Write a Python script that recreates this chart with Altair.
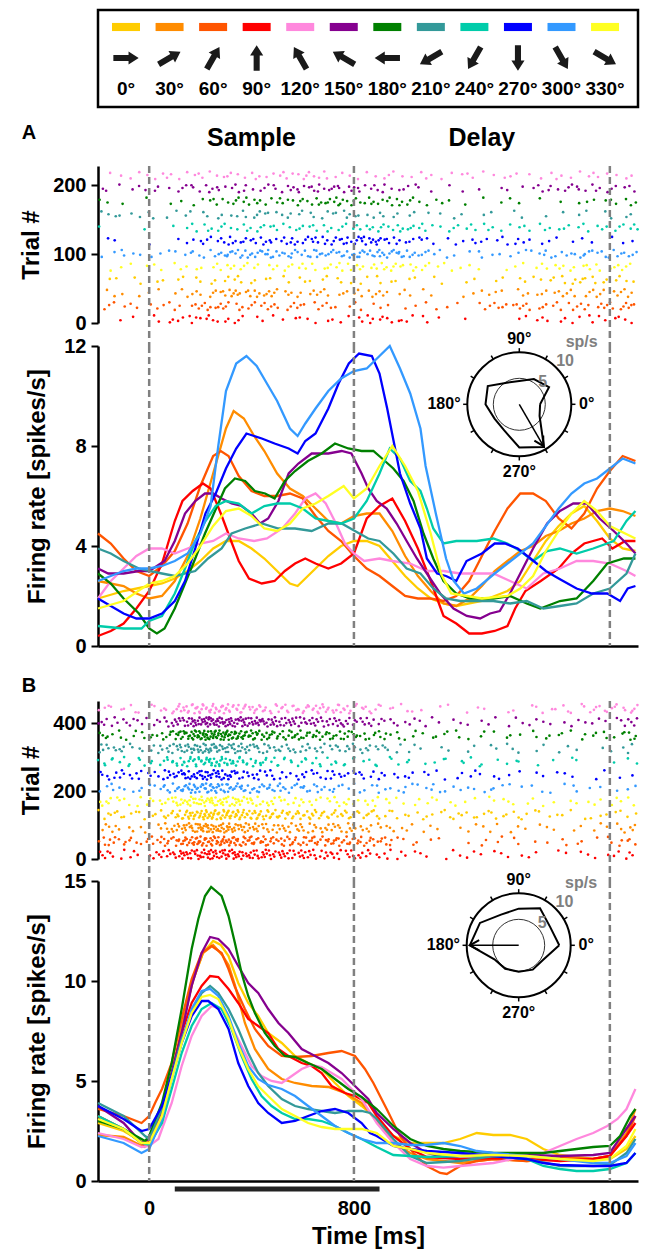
import altair as alt
import numpy as np
import pandas as pd

FONT = "Liberation Sans"

# ---------------- categories / styling data ----------------
ANGLES = [0, 30, 60, 90, 120, 150, 180, 210, 240, 270, 300, 330]
ANGLE_LABELS = ["0°", "30°", "60°", "90°", "120°", "150°", "180°", "210°", "240°", "270°", "300°", "330°"]
COLORS = ["#FFCC00", "#FF8C00", "#FF5500", "#FF0000", "#FF88DD", "#85008F",
          "#008000", "#339999", "#00CCAA", "#0000FF", "#3399FF", "#FFFF22"]
RASTER_ORDER = [90, 60, 30, 0, 330, 300, 270, 240, 210, 180, 150, 120]

EVENT_TIMES = [0, 800, 1800]
EPOCH_NAMES = ["Sample", "Delay"]
EPOCH_MIDS = [400, 1300]
X_TICKS = [0, 800, 1800]
STIM_BAR = [100, 900]
A_RASTER_TICKS = [0, 100, 200]
A_RATE_TICKS = [0, 4, 8, 12]
B_RASTER_TICKS = [0, 200, 400]
B_RATE_TICKS = [0, 5, 10, 15]

# ---------------- panel A firing rates (time ms, spikes/s) ----------------
A_000 = [(-200,1.9),(-100,2.2),(0,2.4),(50,2.5),(100,2.7),(150,3.0),(200,3.4),(250,3.9),(300,4.2),(350,4.2),(400,3.9),(450,3.5),(500,3.0),(550,2.5),(580,2.4),(620,2.8),(660,3.2),(700,3.6),(750,4.0),(800,4.2),(850,4.2),(900,4.0),(950,3.4),(1000,2.8),(1050,2.3),(1100,1.9),(1150,1.7),(1200,1.6),(1300,1.8),(1400,2.2),(1450,2.6),(1500,3.4),(1550,4.2),(1600,4.8),(1650,5.3),(1700,5.6),(1750,5.0),(1800,4.3),(1850,3.9),(1900,3.8)]
A_030 = [(-200,2.6),(-100,2.4),(-50,2.1),(0,1.9),(50,2.0),(100,2.6),(150,3.6),(200,5.1),(250,6.9),(300,8.7),(330,9.4),(370,9.1),(410,8.4),(450,7.8),(500,6.9),(550,6.3),(600,6.0),(650,5.5),(700,5.0),(750,4.9),(800,5.2),(850,5.3),(900,5.3),(950,4.6),(1000,3.6),(1050,2.8),(1100,2.2),(1150,1.7),(1200,1.6),(1250,1.9),(1300,2.4),(1350,3.0),(1400,3.4),(1450,3.8),(1500,4.0),(1550,4.4),(1600,4.6),(1650,4.9),(1700,5.1),(1750,5.4),(1800,5.5),(1850,5.4),(1900,5.2)]
A_060 = [(-200,4.5),(-150,4.1),(-100,3.5),(-50,3.0),(0,2.8),(50,3.2),(100,3.8),(150,4.9),(200,6.4),(250,7.6),(280,7.8),(310,7.6),(350,6.8),(400,6.2),(450,6.0),(500,6.0),(550,6.1),(600,5.9),(650,5.2),(700,4.6),(750,4.2),(800,3.6),(850,3.1),(900,2.8),(950,2.4),(1000,2.0),(1050,1.9),(1100,1.9),(1150,1.8),(1200,2.0),(1250,2.6),(1300,3.6),(1350,4.6),(1400,5.5),(1450,6.1),(1500,6.1),(1550,5.8),(1600,5.1),(1650,4.7),(1700,5.3),(1750,6.3),(1800,7.0),(1850,7.6),(1900,7.4)]
A_090 = [(-200,0.4),(-150,0.6),(-100,0.9),(-50,1.5),(0,2.2),(50,3.3),(100,5.0),(130,5.8),(170,6.2),(210,6.5),(240,6.3),(280,5.3),(320,4.2),(350,3.4),(390,2.7),(440,2.5),(490,2.6),(530,3.0),(570,3.3),(610,3.5),(650,3.3),(700,3.1),(750,3.3),(800,3.7),(850,5.1),(900,5.6),(950,5.9),(1000,5.0),(1050,3.9),(1100,2.6),(1150,1.2),(1200,0.9),(1250,0.5),(1300,0.5),(1350,0.6),(1400,0.8),(1430,1.5),(1470,2.2),(1530,2.6),(1600,3.1),(1650,3.7),(1700,4.1),(1770,4.3),(1810,3.9),(1860,4.2),(1900,4.2)]
A_120 = [(-200,1.9),(-150,2.6),(-100,3.1),(-50,3.6),(0,3.9),(50,3.9),(100,3.7),(150,3.9),(200,4.1),(250,4.2),(300,4.5),(350,4.3),(410,4.2),(460,4.3),(520,4.7),(570,5.3),(610,5.9),(650,6.1),(690,5.7),(730,4.9),(765,4.1),(800,3.7),(840,3.4),(900,3.5),(950,3.4),(1020,3.3),(1085,3.0),(1150,3.0),(1215,2.9),(1280,2.9),(1345,2.9),(1410,2.6),(1475,2.3),(1540,2.9),(1605,3.1),(1670,3.4),(1735,3.4),(1800,3.3),(1865,3.0),(1900,2.8)]
A_150 = [(-200,3.1),(-160,2.9),(-100,2.9),(-40,3.0),(0,3.0),(60,3.4),(100,4.2),(140,5.3),(180,5.8),(218,6.1),(250,6.1),(283,5.9),(322,5.7),(361,5.6),(400,5.3),(433,4.9),(465,5.1),(505,5.8),(545,6.9),(583,7.3),(635,7.7),(700,7.7),(752,7.8),(790,7.7),(830,6.9),(856,6.3),(889,5.8),(928,5.5),(967,4.9),(1006,4.2),(1046,3.5),(1085,2.9),(1137,2.1),(1189,1.5),(1241,1.2),(1293,1.1),(1332,1.3),(1370,1.4),(1410,2.1),(1450,2.9),(1500,3.9),(1555,4.9),(1605,5.4),(1657,5.7),(1710,5.7),(1760,5.1),(1815,4.6),(1865,4.1),(1900,3.7)]
A_180 = [(-200,2.9),(-150,2.5),(-100,1.9),(-40,1.3),(0,0.7),(30,0.5),(60,0.7),(100,1.5),(140,2.5),(180,3.5),(218,4.5),(257,5.4),(296,6.3),(335,6.7),(375,6.6),(413,6.2),(453,6.1),(490,5.9),(530,6.6),(570,7.0),(620,7.4),(674,7.7),(726,8.1),(778,7.9),(830,7.8),(876,7.8),(910,7.5),(954,7.1),(994,6.6),(1033,5.8),(1072,4.5),(1110,3.5),(1150,2.6),(1200,2.1),(1255,1.9),(1345,1.9),(1410,2.0),(1475,1.7),(1528,1.5),(1605,1.8),(1670,1.9),(1735,2.6),(1790,3.3),(1855,3.5),(1900,3.5)]
A_210 = [(-200,3.9),(-150,3.7),(-100,3.4),(-40,3.1),(0,3.0),(50,2.9),(100,2.8),(180,3.0),(230,3.5),(283,3.9),(322,4.5),(375,4.7),(440,4.9),(505,4.7),(570,4.7),(635,4.6),(700,4.9),(752,4.9),(804,4.6),(856,4.3),(900,4.2),(954,3.7),(1006,3.1),(1060,2.9),(1110,2.3),(1160,1.9),(1215,1.8),(1345,1.8),(1410,1.7),(1475,1.8),(1540,1.5),(1605,1.6),(1670,1.7),(1735,2.1),(1800,2.3),(1865,2.9),(1900,3.7)]
A_240 = [(-200,0.8),(-100,0.7),(-30,0.7),(0,1.0),(50,1.2),(100,2.1),(140,3.1),(180,4.2),(220,5.0),(260,5.6),(300,5.8),(350,5.7),(400,5.3),(450,5.6),(500,5.7),(550,5.7),(600,5.5),(650,5.1),(700,5.0),(750,4.9),(800,5.1),(850,5.8),(900,6.9),(940,7.9),(980,7.5),(1020,6.6),(1060,6.2),(1085,5.5),(1110,4.7),(1150,4.1),(1200,4.2),(1280,4.2),(1345,4.3),(1400,4.1),(1450,3.8),(1500,3.4),(1555,3.8),(1605,3.9),(1670,3.7),(1735,3.9),(1815,4.2),(1865,5.0),(1900,5.4)]
A_270 = [(-200,1.9),(-150,1.6),(-100,1.3),(-50,1.1),(0,1.1),(50,1.3),(100,1.8),(140,2.6),(180,3.9),(220,5.3),(260,6.1),(300,7.1),(340,7.9),(380,8.5),(440,8.3),(490,8.1),(545,7.9),(580,7.7),(610,8.2),(650,8.5),(700,9.5),(740,10.5),(780,11.3),(820,11.7),(870,11.6),(900,10.9),(930,9.5),(955,8.2),(980,6.9),(1020,5.7),(1060,4.7),(1085,3.5),(1125,2.9),(1160,2.8),(1200,2.6),(1240,3.4),(1300,3.7),(1350,4.1),(1390,4.1),(1440,3.9),(1490,3.5),(1550,3.0),(1600,2.7),(1670,2.3),(1730,2.1),(1790,2.1),(1840,1.8),(1870,2.3),(1900,2.4)]
A_300 = [(-200,2.6),(-150,2.8),(-100,3.0),(-50,3.1),(0,3.1),(50,3.2),(100,3.4),(150,3.7),(200,4.5),(240,5.6),(270,8.0),(300,10.2),(340,11.3),(380,11.6),(420,11.2),(460,10.5),(500,9.8),(550,8.7),(580,8.4),(610,8.9),(650,9.5),(700,10.2),(750,10.7),(800,11.0),(850,11.1),(900,11.6),(940,12.0),(980,11.1),(1020,10.1),(1060,8.7),(1080,7.2),(1120,5.3),(1160,3.5),(1190,2.6),(1230,2.1),(1280,2.3),(1350,2.9),(1400,3.3),(1450,3.7),(1500,4.1),(1550,4.8),(1600,5.5),(1650,6.1),(1700,6.5),(1750,6.7),(1800,7.1),(1850,7.5),(1900,7.3)]
A_330 = [(-200,1.5),(-100,1.8),(0,2.5),(50,2.6),(100,2.8),(150,3.3),(200,4.0),(250,4.8),(300,5.4),(350,5.5),(400,5.2),(450,4.7),(500,4.6),(550,4.9),(600,5.5),(650,5.7),(700,6.0),(760,6.4),(800,5.9),(850,6.3),(900,7.2),(950,8.0),(1000,7.2),(1050,6.2),(1100,4.5),(1140,2.9),(1180,2.1),(1300,1.9),(1400,2.0),(1450,2.3),(1500,2.8),(1550,3.8),(1600,4.6),(1650,5.3),(1700,5.8),(1750,5.4),(1800,4.8),(1900,4.3)]

# ---------------- panel B firing rates ----------------
B_000 = [(-200,2.9),(-100,2.5),(-20,1.9),(0,2.0),(50,3.4),(90,5.4),(130,7.8),(170,10.0),(210,11.4),(250,12.0),(280,11.8),(310,11.25),(348,9.9),(387,8.9),(426,8.25),(465,7.4),(518,6.9),(570,6.25),(621,5.9),(674,5.6),(726,4.9),(778,4.25),(830,3.75),(889,3.1),(954,2.25),(1020,1.9),(1150,1.9),(1215,2.1),(1280,2.4),(1345,2.3),(1410,2.3),(1475,2.1),(1540,1.6),(1605,1.3),(1670,1.2),(1735,1.1),(1800,1.1),(1865,1.6),(1900,2.25)]
B_030 = [(-200,2.3),(-100,2.2),(-20,1.7),(0,1.9),(50,3.2),(90,5.3),(130,7.8),(170,10.0),(210,11.4),(250,11.8),(285,11.3),(310,10.8),(335,9.8),(374,7.9),(413,6.6),(465,5.6),(518,5.1),(570,4.9),(635,4.75),(700,4.7),(765,4.4),(830,3.9),(889,3.0),(954,1.9),(1020,1.4),(1085,1.1),(1215,0.9),(1345,1.1),(1475,1.0),(1605,1.1),(1735,1.1),(1800,1.25),(1865,2.4),(1900,3.6)]
B_060 = [(-200,3.6),(-100,3.25),(-30,2.9),(0,3.25),(23,3.9),(50,4.6),(88,5.9),(127,8.1),(166,10.1),(205,11.4),(244,11.75),(283,11.4),(310,10.6),(335,9.7),(374,8.6),(413,7.6),(465,6.75),(518,6.25),(570,6.2),(635,6.25),(700,6.4),(752,6.5),(804,6.25),(843,5.6),(876,4.9),(928,3.6),(980,2.25),(1033,1.4),(1085,0.75),(1137,0.4),(1163,0.35),(1215,0.75),(1280,1.0),(1345,1.1),(1475,1.0),(1605,1.15),(1735,1.1),(1800,1.25),(1865,2.25),(1900,3.25)]
B_090 = [(-200,3.25),(-100,2.6),(-16,1.75),(10,2.1),(50,3.6),(88,5.4),(127,7.4),(166,8.9),(205,9.75),(238,10.25),(270,10.2),(310,9.6),(348,8.9),(387,8.1),(426,7.75),(465,7.4),(505,6.6),(544,6.25),(596,5.9),(635,5.75),(674,5.4),(713,4.75),(765,4.4),(804,4.25),(856,3.9),(889,3.25),(954,2.25),(1020,1.6),(1085,1.2),(1215,1.1),(1345,1.15),(1475,1.1),(1605,1.0),(1735,1.1),(1800,1.25),(1865,2.25),(1900,2.9)]
B_120 = [(-200,2.4),(-100,2.1),(-30,1.7),(0,1.75),(36,2.1),(50,2.6),(88,3.9),(127,5.75),(166,7.25),(205,8.25),(244,8.75),(283,8.6),(322,7.75),(361,6.75),(400,5.75),(439,5.25),(478,5.0),(518,4.9),(557,5.25),(596,5.6),(635,5.8),(674,5.7),(713,5.4),(752,5.1),(791,4.6),(830,4.1),(889,2.9),(954,1.9),(1020,1.1),(1085,0.75),(1150,0.67),(1215,0.75),(1345,0.9),(1475,1.25),(1540,1.4),(1605,1.75),(1670,2.1),(1735,2.4),(1790,2.75),(1830,3.1),(1865,3.6),(1900,4.6)]
B_150 = [(-200,3.75),(-100,2.9),(-30,1.9),(0,2.1),(50,3.75),(88,5.4),(127,7.4),(166,9.75),(205,11.4),(238,12.2),(270,12.1),(310,11.6),(348,10.75),(387,9.9),(426,9.4),(465,8.6),(505,7.9),(544,7.4),(596,6.6),(648,6.25),(700,5.9),(752,5.4),(804,4.75),(856,4.1),(889,3.4),(954,2.6),(1020,1.9),(1085,1.4),(1150,1.2),(1215,1.25),(1345,1.3),(1475,1.3),(1605,1.25),(1735,1.3),(1800,1.4),(1853,2.4),(1900,3.25)]
B_180 = [(-200,3.0),(-100,2.6),(-16,2.0),(0,2.25),(50,3.9),(88,5.9),(127,8.6),(166,11.6),(192,13.1),(218,14.25),(242,14.7),(283,14.25),(310,13.25),(335,11.9),(361,10.4),(387,9.25),(413,8.4),(452,7.4),(491,6.75),(530,6.25),(570,6.2),(621,5.9),(674,5.6),(726,5.1),(778,4.6),(830,4.2),(889,3.6),(954,2.75),(1020,2.1),(1085,1.75),(1150,1.6),(1215,1.5),(1345,1.4),(1475,1.4),(1540,1.4),(1605,1.5),(1670,1.6),(1735,1.7),(1800,1.75),(1840,2.25),(1880,3.25),(1900,3.6)]
B_210 = [(-200,3.9),(-100,3.25),(-16,2.25),(0,2.1),(50,3.6),(88,5.25),(127,7.1),(166,8.4),(205,9.4),(238,9.75),(270,9.4),(310,8.6),(348,7.6),(387,6.4),(426,5.4),(465,4.75),(518,4.1),(570,3.75),(621,3.6),(674,3.5),(726,3.4),(778,3.5),(830,3.5),(863,3.4),(889,3.1),(954,2.1),(1020,1.25),(1085,0.9),(1215,1.0),(1345,1.25),(1475,1.1),(1605,0.75),(1735,0.75),(1800,0.8),(1865,1.4),(1900,2.1)]
B_240 = [(-200,3.25),(-100,2.6),(-30,1.9),(0,1.8),(50,2.9),(88,4.6),(127,6.4),(166,7.75),(205,8.6),(244,8.9),(283,8.6),(322,7.6),(361,6.25),(400,5.1),(439,4.25),(478,3.75),(518,3.4),(570,3.1),(621,3.1),(674,3.0),(726,2.75),(778,2.4),(830,2.1),(889,1.7),(954,1.3),(1020,1.25),(1085,1.2),(1215,1.25),(1345,1.25),(1475,1.1),(1540,0.75),(1605,0.6),(1670,0.5),(1735,0.5),(1800,0.6),(1865,0.9),(1900,1.4)]
B_270 = [(-200,3.75),(-100,3.1),(-30,2.5),(0,2.6),(50,3.75),(88,5.25),(127,6.9),(166,8.25),(205,9.0),(231,9.0),(270,8.6),(310,7.6),(348,5.9),(387,4.75),(426,3.9),(465,3.4),(518,2.9),(570,3.0),(621,3.25),(674,3.5),(726,3.6),(778,3.4),(830,2.9),(863,2.4),(889,2.25),(954,1.75),(1020,1.6),(1085,1.5),(1215,1.4),(1345,1.25),(1475,1.1),(1540,0.9),(1605,0.8),(1735,0.75),(1800,0.75),(1865,0.9),(1900,1.4)]
B_300 = [(-200,2.25),(-100,1.9),(-30,1.4),(0,1.6),(50,3.1),(88,5.1),(127,6.9),(166,8.6),(205,9.5),(238,9.6),(270,9.25),(310,8.25),(348,6.9),(387,5.75),(426,5.1),(465,4.8),(518,4.6),(570,4.25),(621,3.75),(674,3.25),(726,2.75),(778,2.4),(830,2.1),(889,1.9),(954,1.9),(1020,1.8),(1085,1.8),(1150,1.9),(1215,1.75),(1280,1.5),(1345,1.4),(1475,1.25),(1605,1.1),(1735,0.9),(1800,0.9),(1865,1.25),(1900,1.9)]
B_330 = [(-200,3.1),(-100,2.6),(-30,1.9),(0,1.9),(50,3.25),(88,5.1),(127,6.9),(166,8.4),(205,9.2),(238,9.3),(270,9.1),(310,8.1),(348,6.75),(387,5.6),(426,4.75),(465,4.25),(518,3.6),(570,3.25),(621,2.9),(674,2.7),(726,2.6),(778,2.6),(830,2.6),(889,2.4),(954,1.75),(1020,1.6),(1085,1.4),(1215,1.25),(1345,1.3),(1475,1.25),(1605,1.1),(1735,1.0),(1800,1.1),(1865,1.75),(1900,2.6)]

# ---------------- polar tuning insets (sp/s at ANGLES) ----------------
A_TUNING = [4.0, 6.6, 5.6, 4.5, 4.8, 7.0, 6.5, 5.5, 5.8, 8.3, 9.5, 4.5]
B_TUNING = [7.8, 7.0, 8.2, 7.05, 6.8, 8.6, 9.4, 5.4, 5.2, 5.1, 5.4, 5.5]
A_VECTOR = [300, 9.3]   # direction (deg), length (sp/s)
B_VECTOR = [180, 9.4]
RING_LABELS = ["sp/s", "10", "5"]
RING_LABEL_X = [12.0, 8.8, 4.5]
RING_LABEL_Y = [12.0, 8.4, 4.3]

A_CURVES = [A_000, A_030, A_060, A_090, A_120, A_150, A_180, A_210, A_240, A_270, A_300, A_330]
B_CURVES = [B_000, B_030, B_060, B_090, B_120, B_150, B_180, B_210, B_240, B_270, B_300, B_330]

# ---------------- layout constants ----------------
W = 540
H_RATE = 300
X_DOMAIN = [-200, 1910]
PX_PER_MS = W / (X_DOMAIN[1] - X_DOMAIN[0])
xs = alt.Scale(domain=X_DOMAIN, nice=False, zero=False)
cscale = alt.Scale(domain=ANGLE_LABELS, range=COLORS)
BAR_PATH = "M-1,-0.29 L1,-0.29 L1,0.29 L-1,0.29 Z"
ARROW_PATH = "M-1,-0.24 L0.2,-0.24 L0.2,-0.52 L1,0 L0.2,0.52 L0.2,0.24 L-1,0.24 Z"
HEAD_PATH = "M-0.6,1.1 L0,0 L0.6,1.1"


def curves_df(curves):
    rows = []
    for lab, pts in zip(ANGLE_LABELS, curves):
        for t, v in pts:
            rows.append({"t": t, "v": v, "dir": lab})
    return pd.DataFrame(rows)


def halton(i, base):
    f, r = 1.0, 0.0
    while i > 0:
        f /= base
        r += f * (i % base)
        i //= base
    return r


def raster_df(curves, pitch, span, ntr):
    """Spike dots spread over trials: times follow the read rate curve (inverse cumulative count),
    placed with a deterministic Halton sequence."""
    grid = np.arange(X_DOMAIN[0], 1911, 1.0)
    rows = []
    for band, ang in enumerate(RASTER_ORDER):
        idx = ANGLES.index(ang)
        t, v = zip(*curves[idx])
        rate = np.interp(grid, t, v)
        cum = np.cumsum(rate) * ntr / 1000.0
        n = int(cum[-1])
        off = 17 + band * 131
        u = np.array([halton(k + off, 2) for k in range(n)])
        w = np.array([halton(k + off, 3) for k in range(n)])
        times = np.interp(u * cum[-1], cum, grid)
        trials = band * pitch + np.floor(w * span)
        for tt, tr in zip(times, trials):
            rows.append({"t": float(tt), "trial": float(tr), "dir": ANGLE_LABELS[idx]})
    return pd.DataFrame(rows)


ev_df = pd.DataFrame({"t": EVENT_TIMES})


def dashed(y0, y1, xaxis=None):
    return alt.Chart(ev_df).mark_rule(color="#808080", strokeWidth=2.5, strokeDash=[7, 4]).encode(
        x=alt.X("t:Q", scale=xs, axis=xaxis), y=alt.value(y0), y2=alt.value(y1))


# ---------------- legend ----------------
leg_df = pd.DataFrame({"ang": ANGLES, "dir": ANGLE_LABELS,
                       "rot": [(360 - a) % 360 for a in ANGLES]})
lx = alt.Scale(domain=[-19.3, 352.7], nice=False, zero=False)
leg_box = alt.Chart(pd.DataFrame({"b": [0]})).mark_rect(
    fillOpacity=0, stroke="black", strokeWidth=2.5).encode(
    x=alt.value(0), x2=alt.value(W), y=alt.value(0), y2=alt.value(97))
leg_bars = alt.Chart(leg_df).mark_point(shape=BAR_PATH, filled=True, size=784, opacity=1).encode(
    x=alt.X("ang:Q", scale=lx, axis=None), y=alt.value(17),
    color=alt.Color("dir:N", scale=cscale, legend=None))
leg_arrows = alt.Chart(leg_df).mark_point(shape=ARROW_PATH, filled=True, size=640, opacity=1,
                                          color="#1a1a1a").encode(
    x=alt.X("ang:Q", scale=lx, axis=None), y=alt.value(48),
    angle=alt.Angle("rot:Q", scale=None))
leg_text = alt.Chart(leg_df).mark_text(font=FONT, fontSize=19, fontWeight="bold", color="black").encode(
    x=alt.X("ang:Q", scale=lx, axis=None), y=alt.value(79), text="dir:N")
legend = alt.layer(leg_box, leg_bars, leg_arrows, leg_text).properties(width=W, height=97)


# ---------------- rasters ----------------
def raster_panel(curves, pitch, span, ntr, dom_max, rng, ticks, height, letter, letter_y, epochs):
    df = raster_df(curves, pitch, span, ntr)
    dots = alt.Chart(df).mark_circle(size=7, opacity=1).encode(
        x=alt.X("t:Q", scale=xs, axis=None),
        y=alt.Y("trial:Q", scale=alt.Scale(domain=[0, dom_max], range=rng, nice=False, zero=False),
                axis=alt.Axis(values=ticks, title="Trial #", titleX=-60, titleBaseline="alphabetic",
                              tickSize=7, labelPadding=5)),
        color=alt.Color("dir:N", scale=cscale, legend=None))
    layers = [dots, dashed(rng[1], height)]
    letter_mark = alt.Chart(pd.DataFrame({"l": [letter]})).mark_text(
        font=FONT, fontSize=20, fontWeight="bold", color="black").encode(
        x=alt.value(-69), y=alt.value(letter_y), text="l:N")
    layers.append(letter_mark)
    if epochs:
        ep = alt.Chart(pd.DataFrame({"m": EPOCH_MIDS, "name": EPOCH_NAMES})).mark_text(
            font=FONT, fontSize=25, fontWeight="bold", color="black").encode(
            x=alt.X("m:Q", scale=xs, axis=None), y=alt.value(31), text="name:N")
        layers.append(ep)
    return alt.layer(*layers).properties(width=W, height=height)


# ---------------- polar inset drawn in the panel's own (time, rate) scales ----------------
def inset_layers(tuning, vec, cx_px, cy_px, ymax, X, Y, R=52):
    cx = X_DOMAIN[0] + cx_px / PX_PER_MS            # centre time (ms)
    cy = ymax * (1 - cy_px / H_RATE)                 # centre rate
    kx = (R / 10) / PX_PER_MS                        # ms per sp/s of the polar plot
    ky = (R / 10) / (H_RATE / ymax)                  # rate units per sp/s

    def pol(rexpr, aexpr):
        return (f"{cx}+{kx}*({rexpr})*cos(({aexpr})*PI/180)",
                f"{cy}+{ky}*({rexpr})*sin(({aexpr})*PI/180)")

    cdf = pd.DataFrame({"ring": [10.0, 5.0]})
    ring = alt.Chart(cdf).transform_calculate(t=str(cx), v=str(cy))
    outer = ring.transform_filter("datum.ring == 10").mark_point(
        shape="circle", size=(2 * R) ** 2, filled=False, color="black", strokeWidth=2, opacity=1).encode(
        x=X("t"), y=Y("v"))
    inner = ring.transform_filter("datum.ring == 5").mark_point(
        shape="circle", size=R ** 2, filled=False, color="#333333", strokeWidth=1, opacity=1).encode(
        x=X("t"), y=Y("v"))
    x1, y1 = pol("10", "datum.a")
    x2, y2 = pol("10.8", "datum.a")
    ticks = alt.Chart(pd.DataFrame({"a": ANGLES})).transform_calculate(
        t=x1, v=y1, xb=x2, yb=y2).mark_rule(color="black", strokeWidth=1.5).encode(
        x=X("t"), y=Y("v"), x2=alt.X2("xb"), y2=alt.Y2("yb"))
    pdf = pd.DataFrame({"a": ANGLES + [ANGLES[0]], "r": tuning + [tuning[0]], "i": list(range(13))})
    px, py = pol("datum.r", "datum.a")
    poly = alt.Chart(pdf).transform_calculate(t=px, v=py).mark_line(
        color="black", strokeWidth=2, strokeJoin="miter").encode(x=X("t"), y=Y("v"), order="i:Q")
    vdf = pd.DataFrame({"a": [vec[0]], "r": [vec[1]]})
    shaft = alt.Chart(vdf).transform_calculate(t=str(cx), v=str(cy), tx=px, ty=py).mark_rule(
        color="black", strokeWidth=1.5).encode(x=X("t"), y=Y("v"), x2=alt.X2("tx"), y2=alt.Y2("ty"))
    head = alt.Chart(vdf).transform_calculate(t=px, v=py, rot="(450 - datum.a) % 360").mark_point(
        shape=HEAD_PATH, filled=False, color="black", strokeWidth=2, size=289, opacity=1).encode(
        x=X("t"), y=Y("v"), angle=alt.Angle("rot:Q", scale=None))

    def compass(label, a, r, align, baseline):
        d = pd.DataFrame({"l": [label], "a": [a], "r": [r]})
        return alt.Chart(d).transform_calculate(t=px, v=py).mark_text(
            font=FONT, fontSize=16, fontWeight="bold", color="black", align=align, baseline=baseline).encode(
            x=X("t"), y=Y("v"), text="l:N")

    labs = [compass("90°", 90, 11.1, "center", "bottom"),
            compass("270°", 270, 11.4, "center", "top"),
            compass("0°", 0, 11.5, "left", "middle"),
            compass("180°", 180, 11.3, "right", "middle")]
    gdf = pd.DataFrame({"l": RING_LABELS, "gx": RING_LABEL_X, "gy": RING_LABEL_Y})
    gray = alt.Chart(gdf).transform_calculate(
        t=f"{cx}+{kx}*datum.gx", v=f"{cy}+{ky}*datum.gy").mark_text(
        font=FONT, fontSize=16, fontWeight="bold", color="#808080").encode(
        x=X("t"), y=Y("v"), text="l:N")
    return [outer, inner, ticks, poly, shaft, head, gray] + labs


# ---------------- firing-rate panels ----------------
def rate_panel(curves, ymax, ticks, tuning, vec, cx, cy, bottom, title_y=None):
    df = curves_df(curves)
    ys = alt.Scale(domain=[0, ymax], nice=False, zero=False)
    if bottom:
        xaxis = alt.Axis(values=X_TICKS, format="d", title="Time [ms]", orient="bottom", ticks=False,
                         labels=True, labelPadding=17, titlePadding=6, domainWidth=2.5)
    else:
        xaxis = alt.Axis(labels=False, ticks=False, title=None, orient="bottom", domainWidth=2.5)
    yax = dict(values=ticks, title="Firing rate [spikes/s]", titleX=-54, titleBaseline="alphabetic",
               tickSize=7, labelPadding=5)
    if title_y is not None:
        yax["titleY"] = title_y
    yaxis = alt.Axis(**yax)

    def X(f):
        return alt.X(f, type="quantitative", scale=xs, axis=xaxis)

    def Y(f):
        return alt.Y(f, type="quantitative", scale=ys, axis=yaxis)

    lines = alt.Chart(df).mark_line(strokeWidth=2.3).encode(
        x=X("t"), y=Y("v"), color=alt.Color("dir:N", scale=cscale, legend=None))
    layers = [lines, dashed(0, H_RATE, xaxis)]
    if bottom:
        bar = alt.Chart(pd.DataFrame({"t": [STIM_BAR[0]], "e": [STIM_BAR[1]]})).mark_rule(
            color="#222222", strokeWidth=5).encode(
            x=X("t"), x2=alt.X2("e"), y=alt.value(H_RATE + 8))
        layers.append(bar)
    layers += inset_layers(tuning, vec, cx, cy, ymax, X, Y)
    return alt.layer(*layers).properties(width=W, height=H_RATE)


rasterA = raster_panel(A_CURVES, 19, 12, 10, 228, [216, 59], A_RASTER_TICKS, 239, "A", 26, True)
rateA = rate_panel(A_CURVES, 12, A_RATE_TICKS, A_TUNING, A_VECTOR, 421.3, 58.3, False, title_y=140)
rasterB = raster_panel(B_CURVES, 39, 28, 24, 465, [213, 55], B_RASTER_TICKS, 235, "B", 40, False)
rateB = rate_panel(B_CURVES, 15, B_RATE_TICKS, B_TUNING, B_VECTOR, 420.7, 64.3, True)

chart = alt.vconcat(legend, rasterA, rateA, rasterB, rateB, spacing=0, bounds="flush").properties(
    padding={"left": 11, "top": 0, "right": 5, "bottom": 5}
).configure_view(stroke=None).configure_axis(
    labelFont=FONT, titleFont=FONT, labelFontWeight="bold", titleFontWeight="bold",
    labelFontSize=20, titleFontSize=24, labelColor="black", titleColor="black",
    domainColor="black", domainWidth=2.5, tickColor="black", tickWidth=2, grid=False
).configure_text(font=FONT)

chart.save("out.html", embed_options={"renderer": "svg", "actions": False})
